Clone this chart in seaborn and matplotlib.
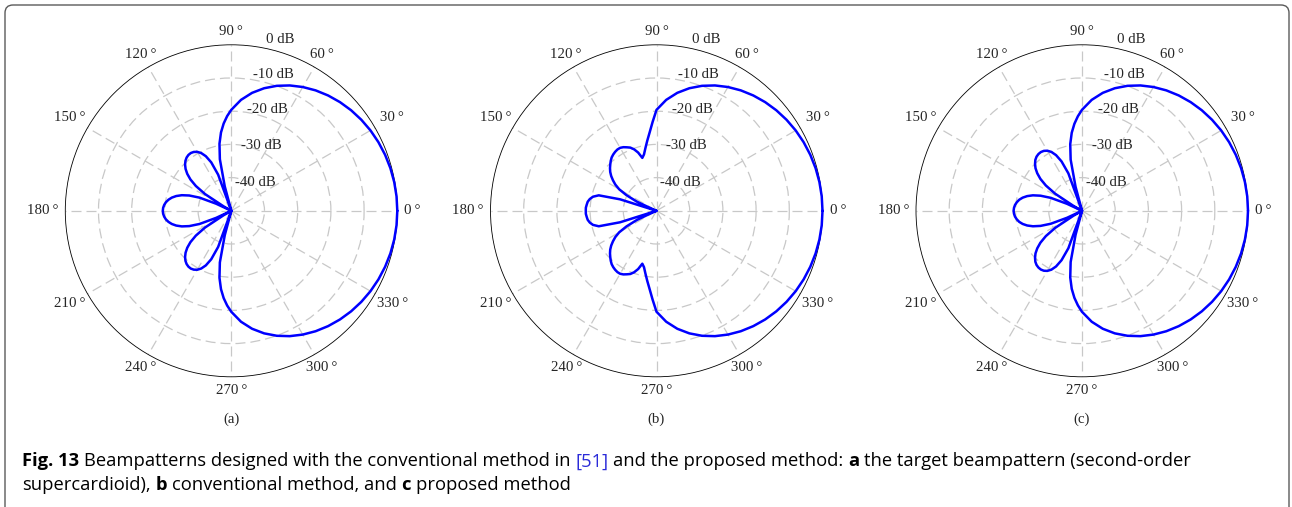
import numpy as np
import pandas as pd
import matplotlib
matplotlib.use("Agg")
import matplotlib.pyplot as plt
import seaborn as sns
from matplotlib.patches import FancyBboxPatch
from matplotlib.transforms import IdentityTransform

sns.set_theme(style="white")
plt.rcParams['font.family'] = ['Liberation Serif', 'DejaVu Serif']

# beampattern samples for the upper half plane (patterns are symmetric about 0 deg)
angles = [0, 5, 10, 15, 20, 25, 30, 35, 40, 45, 50, 55, 60, 65, 70, 75, 80, 85,
          90, 92.5, 95, 97.5, 100, 102.5, 105, 107.5, 110, 112.5, 115, 117.5,
          120, 122.5, 125, 127.5, 130, 132.5, 135, 137.5, 140, 142.5, 145, 147.5,
          150, 152.5, 155, 157.5, 160, 162.5, 165, 167.5, 170, 172.5, 175, 177.5, 180]

# (a) target beampattern, second-order supercardioid (dB, floor at -50)
target_db = [0.0, -0.04, -0.17, -0.39, -0.70, -1.10, -1.59, -2.19, -2.89, -3.71, -4.65, -5.72,
             -6.95, -8.34, -9.94, -11.78, -13.92, -16.46,
             -19.58, -21.44, -23.61, -26.20, -29.49, -34.08, -42.40, -50.0, -38.42, -34.20,
             -31.86, -30.40, -29.50, -28.98, -28.75, -28.79, -29.06, -29.56, -30.31, -31.32,
             -32.68, -34.48, -36.96, -40.63, -47.35, -50.0, -44.94, -39.63, -36.52, -34.38,
             -32.82, -31.65, -30.78, -30.14, -29.71, -29.45, -29.37]

# (b) conventional method
conventional_db = [0.0, -0.04, -0.17, -0.39, -0.70, -1.10, -1.59, -2.19, -2.89, -3.71, -4.65, -5.72,
                   -6.95, -8.34, -9.94, -11.78, -13.92, -16.46,
                   -19.6, -23.2, -26.3, -28.7, -30.8, -32.6, -33.5, -31.6, -30.3, -29.4,
                   -28.9, -28.4, -28.1, -28.1, -28.3, -28.6, -29.0, -29.6, -30.3, -31.0,
                   -31.8, -32.8, -34.0, -35.3, -37.0, -39.8, -43.5, -49.0, -50.0, -38.5,
                   -32.0, -30.4, -29.6, -29.1, -28.9, -28.7, -28.7]

# (c) proposed method
proposed_db = [0.0, -0.04, -0.17, -0.39, -0.70, -1.10, -1.59, -2.19, -2.89, -3.71, -4.65, -5.72,
               -6.95, -8.34, -9.94, -11.78, -13.92, -16.46,
               -19.58, -21.5, -23.7, -26.3, -29.6, -34.2, -42.5, -50.0, -38.0, -33.9,
               -31.5, -30.0, -29.1, -28.6, -28.4, -28.45, -28.7, -29.2, -30.0, -31.0,
               -32.4, -34.2, -36.7, -40.4, -47.0, -50.0, -45.0, -39.8, -36.7, -34.5,
               -32.9, -31.7, -30.8, -30.2, -29.75, -29.5, -29.4]

patterns = [target_db, conventional_db, proposed_db]
panel_labels = ['(a)', '(b)', '(c)']
ring_db = [-40, -30, -20, -10]
ring_labels = ['-40 dB', '-30 dB', '-20 dB', '-10 dB', '0 dB']
theta_ticks = [0, 30, 60, 90, 120, 150, 180, 210, 240, 270, 300, 330]

W, H = 1292, 507
fig = plt.figure(figsize=(W / 100, H / 100), dpi=100)
fig.patch.set_facecolor('white')
renderer = fig.canvas.get_renderer()

# rounded frame around the figure (bottom runs off the image)
frame = FancyBboxPatch((5, -20), 1284, 522, boxstyle="round,pad=0,rounding_size=8",
                       transform=IdentityTransform(), facecolor='none',
                       edgecolor='#5a5a5a', linewidth=1.0)
fig.patches.append(frame)

R = 166  # radius in px
centers = [(231.3, 210.8), (656.5, 210.8), (1082.0, 210.8)]
# label offsets (left edge, vertical centre) from the polar centre, px
ring_label_pos = [(4, 28.5), (10, 65), (16, 101), (22, 136), (35, 171)]
gap = 7

for db, label, (cx, cy) in zip(patterns, panel_labels, centers):
    ax = fig.add_axes([(cx - R) / W, (H - cy - R) / H, 2 * R / W, 2 * R / H],
                      projection='polar')
    full_ang = angles + [360 - a for a in angles[-2::-1]]
    full_db = db + db[-2::-1]
    df = pd.DataFrame({'theta': np.deg2rad(full_ang), 'db': full_db})
    sns.lineplot(data=df, x='theta', y='db', ax=ax, color='#0000ff', linewidth=1.8,
                 sort=False, estimator=None, clip_on=False, zorder=5)
    ax.set_ylim(-50, 0)
    ax.set_xlabel('')
    ax.set_ylabel('')
    ax.set_xticks(np.deg2rad(theta_ticks))
    ax.set_yticks(ring_db)
    ax.set_xticklabels([])
    ax.set_yticklabels([])
    ax.tick_params(length=0)
    ax.grid(True)
    for gl in ax.xaxis.get_gridlines() + ax.yaxis.get_gridlines():
        gl.set_color('#c8c8c8')
        gl.set_linewidth(0.9)
        gl.set_dashes((8, 4))
    ax.spines['polar'].set_color('black')
    ax.spines['polar'].set_linewidth(0.6)
    ax.set_facecolor('white')

    # angle labels sit just outside the circle, anchored on the side facing the centre
    for deg in theta_ticks:
        a = np.deg2rad(deg)
        c, s = np.cos(a), np.sin(a)
        t = fig.text(0, 0, str(deg) + '\u2009°', ha='center', va='center', fontsize=10.7)
        bb = t.get_window_extent(renderer)
        half = min(bb.width / 2 / max(abs(c), 1e-6), bb.height / 2 / max(abs(s), 1e-6))
        d = R + gap + half
        t.set_position(((cx + d * c) / W, (H - cy + d * s) / H))

    for txt, (dx, dy) in zip(ring_labels, ring_label_pos):
        ax.text(0.5 + dx / (2 * R), 0.5 + dy / (2 * R), txt, transform=ax.transAxes,
                ha='left', va='center', fontsize=10.7, zorder=6)

    fig.text(cx / W, (H - 419) / H, label, ha='center', va='center', fontsize=10.7)

# caption with mixed bold / coloured pieces
cap_font = ['Open Sans', 'DejaVu Sans']
cap_size = 13.2
line1 = [("Fig. 13", 'bold', 'black'),
         ("Beampatterns designed with the conventional method in", 'normal', 'black'),
         ("[51]", 'normal', '#2b2bd9'),
         ("and the proposed method:", 'normal', 'black'),
         ("a", 'bold', 'black'),
         ("the target beampattern (second-order", 'normal', 'black')]
line2 = [("supercardioid),", 'normal', 'black'),
         ("b", 'bold', 'black'),
         ("conventional method, and", 'normal', 'black'),
         ("c", 'bold', 'black'),
         ("proposed method", 'normal', 'black')]

t1 = fig.text(0, 0, 'x x', fontsize=cap_size, family=cap_font)
t2 = fig.text(0, 0, 'xx', fontsize=cap_size, family=cap_font)
space_w = t1.get_window_extent(renderer).width - t2.get_window_extent(renderer).width
t1.remove()
t2.remove()

for pieces, base_y in [(line1, 40.5), (line2, 17)]:
    x = 22
    for txt, weight, color in pieces:
        t = fig.text(x / W, base_y / H, txt, fontsize=cap_size, family=cap_font,
                     fontweight=weight, color=color, ha='left', va='baseline')
        x += t.get_window_extent(renderer).width + space_w

fig.savefig('out.png', dpi=100, facecolor='white')
